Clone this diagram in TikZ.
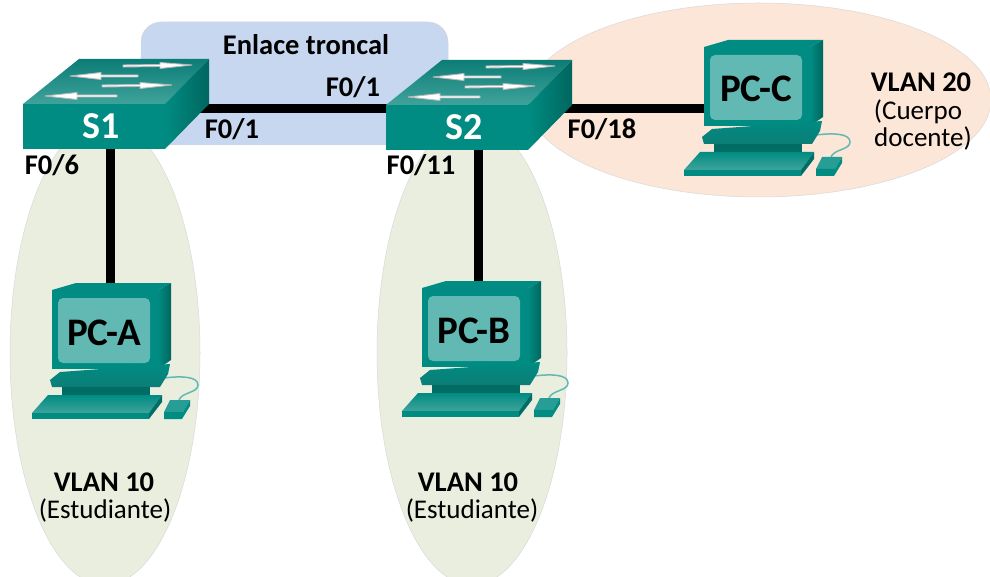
\documentclass[tikz,border=0pt]{standalone}
\usepackage{fontspec}
\setmainfont{Carlito}
\usetikzlibrary{backgrounds}
\definecolor{tealfront}{HTML}{008C82}
\definecolor{tealdark}{HTML}{00665F}
\definecolor{tealmid}{HTML}{0B7D76}
\definecolor{teallight}{HTML}{3FA39B}
\definecolor{screenc}{HTML}{62B8B2}
\definecolor{vgreen}{HTML}{EAEEDF}
\definecolor{vorange}{HTML}{FBE6D8}
\definecolor{vblue}{HTML}{C6D7EF}
\tikzset{
  link/.style={line width=9pt,black},
  lbl/.style={font=\fontsize{28.5}{30}\selectfont\bfseries,text=black,inner sep=0pt},
  reg/.style={font=\fontsize{27}{30}\selectfont,text=black,inner sep=0pt},
  swlabel/.style={font=\fontsize{38}{40}\selectfont\bfseries,text=white,inner sep=0pt,minimum width=128pt,minimum height=45pt},
  pclabel/.style={font=\fontsize{39}{41}\selectfont\bfseries,text=black,inner sep=0pt,fill=screenc,rounded corners=5pt,minimum width=92pt,minimum height=65pt,text height=31pt,text depth=2pt},
  swarrow/.style={fill=white,draw=gray!55,line width=0.9pt,line join=round},
  zone/.style={draw=gray!30,line width=0.5pt}
}
% switch: origin is the top left corner of the front face
\newcommand{\swbody}[4]{%
  \begin{scope}[shift={(#1,#2)}]
    \shade[bottom color=teallight,top color=tealmid] (0,0) -- (56,-45) -- (186,-45) -- (142,0) -- cycle;
    \shade[left color=tealfront,right color=tealdark] (142,0) -- (186,-45) -- (186,0) -- (142,45) -- cycle;
    \fill[tealfront] (0,0) rectangle (142,45);
    \draw[swarrow] (100,-39) -- (137,-39.5) -- (137,-41.5) -- (169,-39) -- (137,-35.5) -- (137,-37.5) -- (100,-37) -- cycle;
    \draw[swarrow] (115,-29) -- (78,-29) -- (78,-31.5) -- (47,-28) -- (78,-24.5) -- (78,-27) -- (115,-27) -- cycle;
    \draw[swarrow] (79,-19) -- (117,-19.5) -- (117,-21.5) -- (149,-19) -- (117,-15.5) -- (117,-17.5) -- (79,-17) -- cycle;
    \draw[swarrow] (94,-9) -- (54,-9) -- (54,-11.5) -- (22,-8) -- (54,-4.5) -- (54,-7) -- (94,-7) -- cycle;
    \node[swlabel] (#4) at (78,22.5) {#3};
  \end{scope}}
% computer: origin is the top left corner of the monitor's front face
\newcommand{\pcbody}[4]{%
  \begin{scope}[shift={(#1,#2)}]
    \draw[screenc,line width=1.5pt] (112,88) .. controls (128,86) and (146,86) .. (146,95) .. controls (146,103) and (130,102) .. (127,110);
    \fill[tealfront] (0,0) -- (24,-7) -- (119,-7) -- (106,0) -- cycle;
    \shade[left color=tealfront,right color=tealdark] (106,0) -- (119,-7) -- (119,70) -- (106,79) -- cycle;
    \fill[tealfront] (0,0) rectangle (106,79);
    \shade[top color=tealfront,bottom color=tealmid] (8,82) -- (118,74) -- (116,84) -- (108,97) -- (0,97) -- (-2,90) -- cycle;
    \fill[tealdark!85!tealfront] (10,97) rectangle (98,105);
    \shade[bottom color=teallight,top color=tealfront] (-4,105) -- (110,105) -- (97,123) -- (-20,123) -- cycle;
    \fill[tealfront] (-20,123) -- (97,123) -- (97,129) -- (-20,129) -- cycle;
    \fill[tealdark!80!tealfront] (97,123) -- (110,105) -- (110,112) -- (97,129) -- cycle;
    \fill[tealfront!85!white] (118,110) -- (138,110) -- (131,122) -- (112,122) -- cycle;
    \fill[tealfront] (112,122) -- (131,122) -- (138,110) -- (138,116) -- (130,129) -- (112,129) -- cycle;
    \node[pclabel] (#4) at (52,40.5) {#3};
  \end{scope}}
\begin{document}
\begin{tikzpicture}[x=1pt,y=-1pt]
  \useasboundingbox (0,0) rectangle (990,577);
  \swbody{23}{104}{S1}{sw1}
  \swbody{386}{105}{S2}{sw2}
  \pcbody{52}{290}{PC-A}{pca}
  \pcbody{422}{288}{PC-B}{pcb}
  \pcbody{704}{47}{PC-C}{pcc}
  \begin{scope}[on background layer]
    \clip (0,0) rectangle (990,577);
    \fill[white] (0,0) rectangle (990,577);
    \draw[zone,fill=vorange] (759,100) ellipse [x radius=232,y radius=97];
    \draw[zone,fill=vblue,rounded corners=20pt] (141,22) rectangle (448,145);
    \draw[zone,fill=vgreen] (105,353) ellipse [x radius=95,y radius=232];
    \draw[zone,fill=vgreen] (472,353) ellipse [x radius=95,y radius=232];
    \draw[link] ([yshift=-5pt]sw1.north east) -- ([yshift=-5pt]sw1.north east -| sw2.west);
    \draw[link] ([yshift=-4pt]sw2.north east) -- ([yshift=-4pt]sw2.north east -| pcc.west);
    \draw[link] ([xshift=9pt]sw1.south) -- ([xshift=6pt]pca.north);
    \draw[link] ([xshift=14pt]sw2.south) -- ([xshift=4pt]pcb.north);
  \end{scope}
  \node[lbl] (tr) at (306,45) {Enlace troncal};
  \node[lbl] (p1) at (353,87) {F0/1};
  \node[lbl] (p2) at (232,129) {F0/1};
  \node[lbl] (p3) at (52,165) {F0/6};
  \node[lbl] (p4) at (421,165) {F0/11};
  \node[lbl] (p5) at (602,129) {F0/18};
  \node[lbl] (v20) at (921,82) {VLAN 20};
  \node[reg] (c1) at (918,112) {(Cuerpo};
  \node[reg] (c2) at (923,138) {docente)};
  \node[lbl] (v1) at (104,482) {VLAN 10};
  \node[reg] (e1) at (105,510) {(Estudiante)};
  \node[lbl] (v2) at (468,482) {VLAN 10};
  \node[reg] (e2) at (472,510) {(Estudiante)};
\end{tikzpicture}
\end{document}
